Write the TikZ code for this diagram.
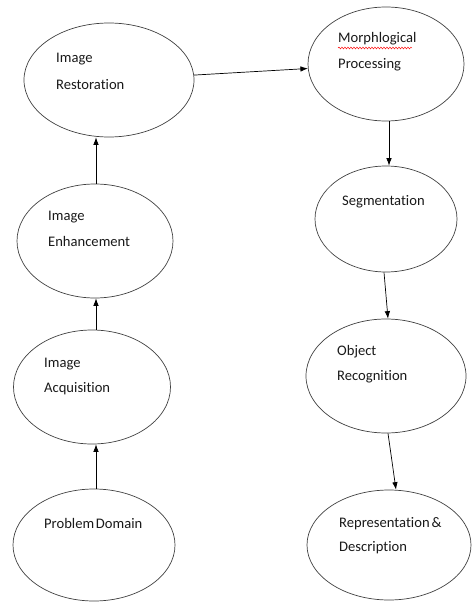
\documentclass[tikz,border=0pt]{standalone}
\usepackage{fontspec}
\setmainfont[Ligatures=NoCommon]{Carlito}
\usetikzlibrary{shapes.geometric,arrows.meta,decorations.pathmorphing}
\begin{document}
\begin{tikzpicture}[x=1pt,y=-1pt,
  stage/.style={draw=black!75,line width=0.7pt,ellipse,inner sep=0pt},
  lbl/.style={anchor=base west,inner sep=0pt,font=\fontsize{14.6}{17}\selectfont,text=black!90},
  conn/.style={line width=0.7pt,-{Latex[length=7.5pt,width=5.5pt]}}]
\useasboundingbox (0,0) rectangle (471,602);
% ellipses
\node[stage,minimum width=170pt,minimum height=114pt] (rest) at (109,80) {};
\node[stage,minimum width=156pt,minimum height=114pt] (morph) at (386,64) {};
\node[stage,minimum width=156pt,minimum height=114pt] (enh) at (95,241) {};
\node[stage,minimum width=157pt,minimum height=114pt] (acq) at (92,387) {};
\node[stage,minimum width=162pt,minimum height=112pt] (dom) at (94,545) {};
\node[stage,minimum width=142pt,minimum height=106pt] (seg) at (386,219) {};
\node[stage,minimum width=160pt,minimum height=114pt] (obj) at (386,376) {};
\node[stage,minimum width=164pt,minimum height=110pt] (rep) at (389,545) {};
% labels
\node[lbl] (t1) at (56,63) {Image};
\node[lbl] (t2) at (56,89) {Restoration};
\node[lbl] (t3) at (338,43) {Morphlogical};
\node[lbl] (t4) at (338,69) {Processing};
\node[lbl] (t5) at (48,220) {Image};
\node[lbl] (t6) at (48,246) {Enhancement};
\node[lbl] (t7) at (44,367) {Image};
\node[lbl] (t8) at (44,392) {Acquisition};
\node[lbl] (t9) at (44,528) {Problem\kern-1.6pt\ Domain};
\node[lbl] (t10) at (342,205) {Segmentation};
\node[lbl] (t11) at (337,355) {Object};
\node[lbl] (t12) at (337,380) {Recognition};
\node[lbl] (t13) at (339,527) {Representation\kern-1.4pt\ \&};
\node[lbl] (t14) at (339,551) {Description};
% spell-check squiggle
\coordinate (sq1) at (338,48);
\coordinate (sq2) at (412,48);
\draw[red,line width=0.45pt,decorate,decoration={snake,amplitude=0.9pt,segment length=3pt}] (sq1) -- (sq2);
% connectors
\coordinate (lcol) at (96,0);
\coordinate (rcol) at (389,0);
\draw[conn] (lcol |- dom.north) -- (lcol |- acq.south);
\draw[conn] (lcol |- acq.north) -- (lcol |- enh.south);
\draw[conn] (lcol |- enh.north) -- (lcol |- rest.south);
\draw[conn] (rest) -- (morph);
\draw[conn] (rcol |- morph.south) -- (rcol |- seg.north);
\draw[conn] ([xshift=-2pt]seg.south) -- ([xshift=2pt]obj.north);
\draw[conn] ([xshift=2pt]obj.south) -- ([xshift=7pt]rep.north);
\end{tikzpicture}
\end{document}
